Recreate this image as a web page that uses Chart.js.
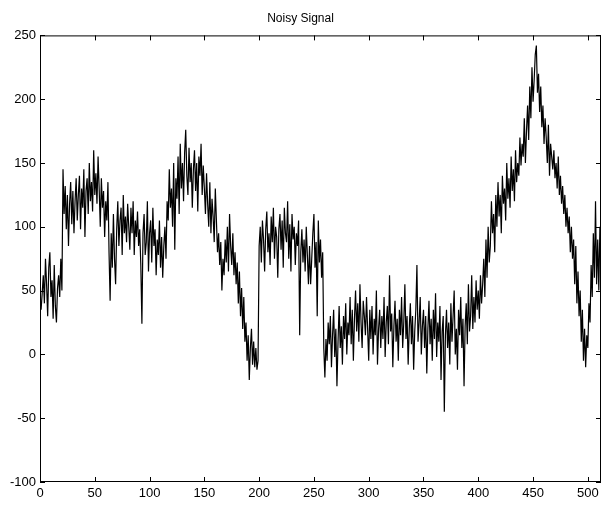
<!DOCTYPE html>
<html>
<head>
<meta charset="utf-8">
<script src="https://cdn.jsdelivr.net/npm/chart.js@4.4.0/dist/chart.umd.min.js"></script>
<style>
    body { margin: 0; background: #fff; }
    #signal { display: block; }
</style>
</head>
<body>
<canvas id="signal" width="604" height="509"></canvas>
<script>
const chartTitle = 'Noisy Signal';
const xTicks = [0, 50, 100, 150, 200, 250, 300, 350, 400, 450, 500];
const yTicks = [-100, -50, 0, 50, 100, 150, 200, 250];

// samples 1..512
const noisySignal = [
    35, 48, 62, 40, 75, 55, 30, 68, 80, 45, 58, 28, 70, 38, 25, 52,
    62, 45, 75, 50, 145, 110, 132, 98, 125, 85, 118, 135, 102, 128, 95, 120,
    138, 105, 125, 140, 98, 130, 115, 145, 92, 128, 138, 110, 150, 120, 135, 112,
    160, 125, 142, 118, 155, 130, 100, 138, 115, 128, 92, 120, 105, 135, 80, 42,
    95, 68, 110, 75, 55, 98, 120, 85, 105, 115, 78, 125, 95, 108, 88, 118,
    100, 82, 115, 95, 120, 78, 105, 92, 112, 85, 98, 70, 24, 95, 110, 78,
    88, 120, 65, 95, 105, 72, 115, 85, 98, 62, 90, 78, 105, 68, 92, 60,
    85, 100, 75, 120, 105, 145, 115, 130, 100, 150, 82, 138, 122, 155, 110, 165,
    130, 150, 120, 158, 176, 140, 125, 162, 135, 150, 115, 145, 160, 128, 150, 112,
    155, 140, 165, 125, 148, 130, 110, 142, 118, 100, 135, 95, 122, 108, 88, 130,
    105, 80, 95, 70, 88, 50, 75, 62, 90, 72, 100, 65, 110, 85, 70, 95,
    62, 80, 55, 72, 40, 65, 30, 52, 20, 45, 10, 25, -5, 15, -20, 5,
    20, -8, 10, -10, 5, -12, -5, 85, 100, 72, 105, 90, 65, 98, 112, 80,
    95, 70, 108, 88, 115, 75, 100, 92, 60, 98, 110, 82, 105, 68, 115, 95,
    88, 120, 75, 102, 65, 110, 90, 100, 70, 95, 85, 105, 15, 80, 98, 72,
    90, 65, 100, 78, 55, 85, 55, 75, 95, 110, 68, 88, 30, 105, 72, 90,
    60, 80, 5, -18, 12, -5, 25, 8, 30, -10, 15, 35, -2, 20, -25, 10,
    38, 5, 22, -8, 30, 12, 40, 0, 25, 15, 45, 8, 35, -5, 28, 50,
    18, 40, 10, 55, 25, 5, 42, 30, 15, 45, 20, -5, 35, 12, 38, 0,
    28, 15, 50, -8, 20, 35, 5, 30, 12, 45, -2, 25, 38, 8, 62, 18,
    32, -10, 22, 42, 10, 28, -5, 35, 15, 45, 5, 25, 55, 12, 30, -8,
    20, 40, 8, 30, -12, 18, 35, 70, 10, 25, 45, 0, 22, 35, 5, 30,
    -15, 20, 42, 8, 28, -5, 35, 12, 48, -2, 25, 10, 38, -20, 18, 30,
    -45, 15, 35, 5, 25, -8, 40, 10, 30, 50, 0, 20, -12, 35, 15, 45,
    5, 28, -25, 22, 40, 8, 55, 18, 30, 62, 20, 45, 25, 58, 35, 50,
    28, 62, 40, 55, 75, 45, 90, 60, 100, 72, 85, 120, 95, 110, 80, 125,
    100, 135, 108, 125, 95, 140, 118, 130, 105, 150, 122, 138, 115, 155, 128, 145,
    120, 160, 135, 150, 140, 170, 148, 165, 155, 185, 150, 175, 195, 168, 210, 185,
    225, 198, 215, 235, 242, 205, 220, 190, 210, 178, 195, 165, 185, 170, 150, 180,
    140, 165, 155, 145, 160, 138, 150, 130, 155, 125, 140, 118, 132, 110, 125, 100,
    115, 95, 108, 80, 100, 75, 90, 55, 85, 40, 65, 30, 50, 10, 35, -5,
    20, -10, 15, 5, 40, 25, 70, 45, 95, 60, 120, 55, 90, 50, 100, 70
];

const fontFamily = '"Liberation Sans", Arial, Helvetica, sans-serif';

// matlab style box with ticks pointing inward on all four sides
const boxTicks = {
    id: 'boxTicks',
    afterDraw(chart) {
        const ctx = chart.ctx;
        const area = chart.chartArea;
        const xs = chart.scales.x;
        const ys = chart.scales.y;
        const len = 5;
        ctx.save();
        ctx.strokeStyle = '#000';
        ctx.lineWidth = 1;
        ctx.strokeRect(area.left + 0.5, area.top + 0.5, area.right - area.left - 1, area.bottom - area.top - 1);
        ctx.beginPath();
        xTicks.forEach(v => {
            const px = Math.round(xs.getPixelForValue(v)) + 0.5;
            ctx.moveTo(px, area.bottom);
            ctx.lineTo(px, area.bottom - len);
            ctx.moveTo(px, area.top);
            ctx.lineTo(px, area.top + len);
        });
        yTicks.forEach(v => {
            const py = Math.round(ys.getPixelForValue(v)) + 0.5;
            ctx.moveTo(area.left, py);
            ctx.lineTo(area.left + len, py);
            ctx.moveTo(area.right, py);
            ctx.lineTo(area.right - len, py);
        });
        ctx.stroke();
        ctx.restore();
    }
};

class SignalPlot {
    constructor(elementId) {
        this.elementID = elementId;
        this.chart = null;
    }

    createChart(values) {
        const points = values.map((v, i) => ({x: i + 1, y: v}));
        const config = {
            type: 'line',
            data: {
                datasets: [
                    {
                        data: points,
                        borderColor: '#000',
                        borderWidth: 1.2,
                        pointRadius: 0,
                        tension: 0,
                        fill: false,
                    }
                ],
            },
            plugins: [boxTicks],
            options: {
                responsive: false,
                animation: false,
                devicePixelRatio: 1,
                layout: {padding: {left: 0, right: 3, top: 0, bottom: 0}},
                plugins: {
                    legend: {display: false},
                    tooltip: {enabled: false},
                    title: {
                        display: true,
                        text: chartTitle,
                        color: '#000',
                        font: {family: fontFamily, size: 12, weight: 'normal'},
                        padding: {top: 11, bottom: 10},
                    },
                },
                scales: {
                    x: {
                        type: 'linear',
                        min: 0,
                        max: 512,
                        afterBuildTicks: scale => { scale.ticks = xTicks.map(v => ({value: v})); },
                        afterFit: scale => { scale.height = 27; },
                        grid: {display: false, drawTicks: false},
                        border: {display: false},
                        ticks: {color: '#000', padding: 4, maxRotation: 0, font: {family: fontFamily, size: 13}},
                    },
                    y: {
                        type: 'linear',
                        min: -100,
                        max: 250,
                        afterBuildTicks: scale => { scale.ticks = yTicks.map(v => ({value: v})); },
                        afterFit: scale => { scale.width = 40; },
                        grid: {display: false, drawTicks: false},
                        border: {display: false},
                        ticks: {color: '#000', padding: 4, font: {family: fontFamily, size: 13}},
                    },
                },
            },
        };

        const ctx = document.getElementById(this.elementID).getContext('2d');
        this.chart = new Chart(ctx, config);
    }
}

const plot = new SignalPlot('signal');
plot.createChart(noisySignal);
</script>
</body>
</html>
